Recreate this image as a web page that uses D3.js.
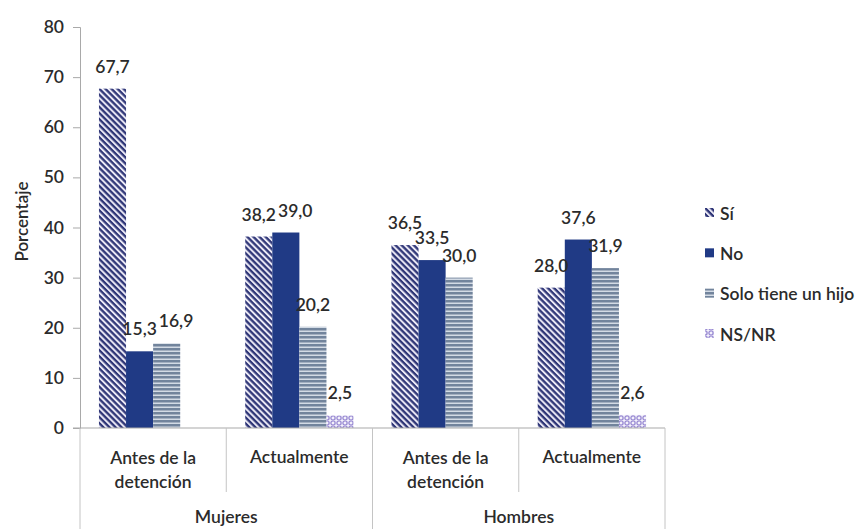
<!DOCTYPE html>
<html><head><meta charset="utf-8">
<script src="https://cdn.jsdelivr.net/npm/d3@7"></script>
<style>
html,body{margin:0;padding:0;background:#fff;}
svg{display:block;font-family:Lato,"Open Sans",sans-serif;}
</style></head>
<body>
<svg id="chart" width="864" height="529"></svg>
<script>
const groups = ["Mujeres", "Hombres"];
const periods = ["Antes de la detención", "Actualmente"];
const categories = ["Mujeres|Antes de la detención", "Mujeres|Actualmente", "Hombres|Antes de la detención", "Hombres|Actualmente"];
const series = ["Sí", "No", "Solo tiene un hijo", "NS/NR"];
const valuesSi    = [67.7, 38.2, 36.5, 28.0];
const valuesNo    = [15.3, 39.0, 33.5, 37.6];
const valuesSolo  = [16.9, 20.2, 30.0, 31.9];
const valuesNSNR  = [null, 2.5, null, 2.6];
const yTicks = [0, 10, 20, 30, 40, 50, 60, 70, 80];
const yTitle = "Porcentaje";

const seriesValues = [valuesSi, valuesNo, valuesSolo, valuesNSNR];
const svg = d3.select("#chart");
const M = {left: 80, right: 665, top: 27, bottom: 428};
const txt = "#2b2b2b";
const axisCol = "#a9a9a9";

// patterns
const defs = svg.append("defs");
const pSi = defs.append("pattern").attr("id","pSi").attr("patternUnits","userSpaceOnUse")
  .attr("width",8).attr("height",4.3).attr("patternTransform","rotate(45)");
pSi.append("rect").attr("width",8).attr("height",4.3).attr("fill","#eceaf6");
pSi.append("rect").attr("width",8).attr("height",2.3).attr("fill","#2f3677");
const pSolo = defs.append("pattern").attr("id","pSolo").attr("patternUnits","userSpaceOnUse")
  .attr("width",6).attr("height",4);
pSolo.append("rect").attr("width",6).attr("height",4).attr("fill","#72849c");
pSolo.append("rect").attr("y",2.5).attr("width",6).attr("height",1.5).attr("fill","#d3dbe5");
const pNS = defs.append("pattern").attr("id","pNS").attr("patternUnits","userSpaceOnUse")
  .attr("width",6).attr("height",5);
pNS.append("rect").attr("width",6).attr("height",5).attr("fill","#f3f1fb");
pNS.append("circle").attr("cx",3).attr("cy",3).attr("r",2.1).attr("fill","none").attr("stroke","#9a8bd3").attr("stroke-width",1.3);
const fills = ["url(#pSi)", "#203a85", "url(#pSolo)", "url(#pNS)"];

const x0 = d3.scaleBand().domain(categories).range([M.left, M.right]).paddingInner(0).paddingOuter(0);
const x1 = d3.scaleBand().domain(series).range([0, x0.bandwidth()]).paddingInner(0).paddingOuter(0.7);
const y = d3.scaleLinear().domain([0, 80]).range([M.bottom, M.top]);

const FS = 17.5;

// y axis
const yAxis = d3.axisLeft(y).tickValues(yTicks).tickSize(7).tickPadding(9).tickFormat(d3.format("d"));
const gy = svg.append("g").attr("transform",`translate(${M.left},0)`).call(yAxis);
gy.select(".domain").attr("stroke",axisCol);
gy.selectAll(".tick line").attr("stroke",axisCol);
gy.selectAll(".tick text").attr("fill",txt).attr("font-size",FS).attr("font-family","Lato,sans-serif").attr("font-weight",600);

svg.append("text").attr("transform",`translate(21,${(M.top+M.bottom)/2 - 6}) rotate(-90)`)
  .attr("text-anchor","middle").attr("dominant-baseline","central")
  .attr("font-size",17).attr("fill",txt).attr("font-weight",600).text(yTitle);

// bars
const data = [];
categories.forEach((c,i)=>{
  series.forEach((s,j)=>{
    const v = seriesValues[j][i];
    if (v !== null) data.push({c, s, j, v});
  });
});
svg.append("g").selectAll("rect").data(data).join("rect")
  .attr("x", d => x0(d.c) + x1(d.s))
  .attr("width", x1.bandwidth())
  .attr("y", d => y(d.v))
  .attr("height", d => y(0) - y(d.v))
  .attr("fill", d => fills[d.j]);

// value labels with simple overlap avoidance
const fmt = v => d3.format(".1f")(v).replace(".", ",");
const lg = svg.append("g").attr("font-size",FS).attr("font-weight",600).attr("fill",txt).attr("text-anchor","middle");
categories.forEach(c=>{
  let prev = null;
  data.filter(d=>d.c===c).forEach(d=>{
    let cx = x0(d.c) + x1(d.s) + x1.bandwidth()/2;
    const by = y(d.v) - 16;
    const t = lg.append("text").attr("x",cx).attr("y",by).text(fmt(d.v));
    const w = t.node().getComputedTextLength();
    if (prev && Math.abs(prev.y - by) < 15) {
      const overlap = (prev.x + prev.w/2) - (cx - w/2);
      if (overlap > 0) { cx += overlap + 2; t.attr("x", cx); }
    }
    prev = {x: cx, y: by, w};
  });
});

// x axis baseline
svg.append("line").attr("x1",M.left-7).attr("x2",M.right).attr("y1",M.bottom).attr("y2",M.bottom)
  .attr("stroke",axisCol).attr("stroke-width",1);

// category table lines
const cg = svg.append("g").attr("stroke","#c4c4c4").attr("stroke-width",1);
categories.forEach((c,i)=>{
  const xl = x0(c);
  const isGroupEdge = i % periods.length === 0;
  cg.append("line").attr("x1",xl).attr("x2",xl).attr("y1",M.bottom).attr("y2", isGroupEdge ? 529 : 492);
});
cg.append("line").attr("x1",M.right).attr("x2",M.right).attr("y1",M.bottom).attr("y2",529);

// category labels
const tg = svg.append("g").attr("font-size",FS).attr("fill",txt).attr("text-anchor","middle").attr("font-weight",600);
categories.forEach(c=>{
  const period = c.split("|")[1];
  const cx = x0(c) + x0.bandwidth()/2;
  if (period === "Antes de la detención") {
    tg.append("text").attr("x",cx).attr("y",464).text("Antes de la");
    tg.append("text").attr("x",cx).attr("y",488).text("detención");
  } else {
    tg.append("text").attr("x",cx).attr("y",463).text(period);
  }
});
groups.forEach((g,i)=>{
  const first = x0(categories[i*periods.length]);
  const last = x0(categories[i*periods.length + periods.length - 1]) + x0.bandwidth();
  tg.append("text").attr("x",(first+last)/2).attr("y",523).text(g);
});

// legend
const legY = d3.scalePoint().domain(series).range([213, 334]);
const leg = svg.append("g").attr("font-size",17.5).attr("fill",txt).attr("font-weight",600);
series.forEach((s,j)=>{
  leg.append("rect").attr("x",705).attr("y",legY(s)-5).attr("width",9).attr("height",9).attr("fill",fills[j]);
  leg.append("text").attr("x",720).attr("y",legY(s)).attr("dominant-baseline","central").text(s);
});
</script>
</body></html>
